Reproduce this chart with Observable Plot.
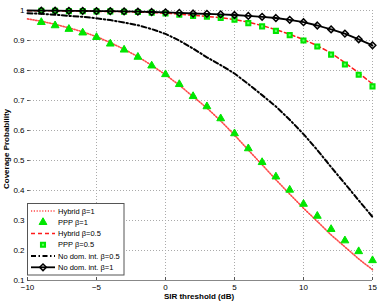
<!DOCTYPE html>
<html><head><meta charset="utf-8">
<script src="https://cdn.jsdelivr.net/npm/d3@7"></script>
<script src="https://cdn.jsdelivr.net/npm/@observablehq/plot@0.6"></script>
<style>body{margin:0;background:#fff} svg{font-family:"Liberation Sans",Arial,sans-serif}</style>
</head><body><div id="chart"></div>
<script>
// SIR threshold (dB) sample points
const sirLine = [-10,-9,-8,-7,-6,-5,-4,-3,-2,-1,0,1,2,3,4,5,6,7,8,9,10,11,12,13,14,15];
const sirMarker = [-9,-8,-7,-6,-5,-4,-3,-2,-1,0,1,2,3,4,5,6,7,8,9,10,11,12,13,14,15];

// Coverage probability series
const hybridB1 = [0.972,0.964,0.954,0.942,0.929,0.913,0.893,0.871,0.846,0.817,0.786,0.751,0.713,0.675,0.632,0.585,0.535,0.486,0.436,0.388,0.341,0.297,0.252,0.212,0.172,0.136];
const pppB1 = [0.961,0.950,0.938,0.926,0.911,0.889,0.869,0.845,0.816,0.787,0.754,0.714,0.680,0.640,0.590,0.540,0.494,0.446,0.402,0.355,0.315,0.271,0.233,0.197,0.167];
const hybridB05 = [0.999,0.999,0.999,0.998,0.998,0.997,0.997,0.996,0.995,0.993,0.991,0.988,0.984,0.980,0.976,0.970,0.961,0.950,0.936,0.921,0.903,0.883,0.858,0.826,0.792,0.755];
const pppB05 = [0.999,0.999,0.998,0.998,0.997,0.997,0.996,0.995,0.993,0.990,0.986,0.982,0.979,0.975,0.969,0.958,0.947,0.932,0.918,0.900,0.880,0.853,0.820,0.786,0.747];
const noDomB05 = [0.991,0.989,0.986,0.982,0.979,0.974,0.968,0.960,0.951,0.938,0.922,0.900,0.873,0.844,0.818,0.790,0.755,0.718,0.680,0.636,0.588,0.535,0.478,0.423,0.367,0.312];
const noDomB1 = [1.000,0.9995,0.9993,0.999,0.9987,0.998,0.998,0.997,0.996,0.995,0.994,0.992,0.990,0.989,0.987,0.985,0.982,0.979,0.975,0.969,0.961,0.950,0.937,0.923,0.904,0.884];

// Ticks and labels
const xTicks = [-10,-5,0,5,10,15];
const yTicks = [0.1,0.2,0.3,0.4,0.5,0.6,0.7,0.8,0.9,1];
const legendLabels = ["Hybrid \u03b2=1","PPP \u03b2=1","Hybrid \u03b2=0.5","PPP \u03b2=0.5","No dom. int. \u03b2=0.5","No dom. int. \u03b2=1"];
const xLabel = "SIR threshold (dB)";
const yLabel = "Coverage Probability";

const series = (xs, ys) => xs.map((x, i) => ({x, y: ys[i]}));
const noDomB1Markers = series(sirLine, noDomB1).filter(d => d.x >= sirMarker[0]);

const RED = "#ff1a1a", GREEN = "#00e600", SQFILL = "#66ff66";

const plot = Plot.plot({
  width: 382, height: 304,
  marginLeft: 27, marginRight: 10, marginTop: 10, marginBottom: 24,
  style: {fontFamily: "Liberation Sans, Arial, sans-serif", fontSize: "8px", background: "#fff", color: "#000", overflow: "visible"},
  x: {domain: [-10, 15]},
  y: {domain: [0.1, 1]},
  marks: [
    Plot.ruleX(xTicks.slice(1), {stroke: "#aaa", strokeDasharray: "1,2"}),
    Plot.ruleY(yTicks.slice(1), {stroke: "#aaa", strokeDasharray: "1,2"}),
    Plot.ruleY([0.1], {stroke: "#888", strokeWidth: 1.2}),
    Plot.ruleX(xTicks, {y1: 0.1, y2: 0.11, stroke: "#555"}),
    Plot.ruleY(yTicks, {x1: -10, x2: -9.8, stroke: "#555"}),
    Plot.axisX(xTicks, {tickSize: 0, tickPadding: 4, label: null,
      tickFormat: d => d < 0 ? "\u2212" + (-d) : String(d)}),
    Plot.axisY(yTicks, {tickSize: 0, tickPadding: 3, label: null,
      tickFormat: d => d === 1 ? "1" : d.toFixed(1)}),
    Plot.line(series(sirLine, hybridB1), {x: "x", y: "y", stroke: RED, strokeWidth: 1.6, strokeDasharray: "1.2,1.6", strokeOpacity: 0.8}),
    Plot.dot(series(sirMarker, pppB1), {x: "x", y: "y", symbol: "triangle", r: 2.9, fill: GREEN, stroke: GREEN, strokeWidth: 1}),
    Plot.line(series(sirLine, hybridB05), {x: "x", y: "y", stroke: RED, strokeWidth: 1.5, strokeDasharray: "4,3"}),
    Plot.dot(series(sirMarker, pppB05), {x: "x", y: "y", symbol: "square", r: 2.3, fill: SQFILL, stroke: GREEN, strokeWidth: 2}),
    Plot.line(series(sirLine, noDomB05), {x: "x", y: "y", stroke: "#000", strokeWidth: 2, strokeDasharray: "5,2.5,1.5,2.5"}),
    Plot.line(series(sirLine, noDomB1), {x: "x", y: "y", stroke: "#000", strokeWidth: 1.8}),
    Plot.dot(noDomB1Markers, {x: "x", y: "y", symbol: "diamond2", r: 3, fill: "none", stroke: "#000", strokeWidth: 1.5})
  ]
});

const svg = d3.select(plot);
// axis labels
svg.append("text").attr("x", 199).attr("y", 298.5).attr("text-anchor", "middle")
  .attr("font-size", 8).attr("font-weight", "bold").text(xLabel);
svg.append("text").attr("transform", "translate(9,149) rotate(-90)").attr("text-anchor", "middle")
  .attr("font-size", 8).attr("font-weight", "bold").text(yLabel);

// legend
const lg = svg.append("g").attr("text-anchor", "start");
lg.append("rect").attr("x", 27.5).attr("y", 203.5).attr("width", 96.5).attr("height", 71.5)
  .attr("fill", "#fff").attr("stroke", "#555");
const rowY = i => 211 + i * 11.26;
const styles = [
  {line: {stroke: RED, w: 1.6, dash: "1.2,1.6", op: 0.8}},
  {marker: {type: d3.symbolTriangle, size: Math.PI * 2.9 * 2.9, fill: GREEN, stroke: GREEN, w: 1}},
  {line: {stroke: RED, w: 1.5, dash: "4,3"}},
  {marker: {type: d3.symbolSquare, size: Math.PI * 2.3 * 2.3, fill: SQFILL, stroke: GREEN, w: 2}},
  {line: {stroke: "#000", w: 2, dash: "5,2.5,1.5,2.5"}},
  {line: {stroke: "#000", w: 1.8}, marker: {type: d3.symbolDiamond2, size: Math.PI * 9, fill: "none", stroke: "#000", w: 1.5}}
];
legendLabels.forEach((lab, i) => {
  const y = rowY(i), s = styles[i];
  if (s.line) {
    lg.append("line").attr("x1", 31).attr("x2", 55).attr("y1", y).attr("y2", y)
      .attr("stroke", s.line.stroke).attr("stroke-width", s.line.w)
      .attr("stroke-dasharray", s.line.dash || null).attr("stroke-opacity", s.line.op || 1);
  }
  if (s.marker) {
    lg.append("path").attr("transform", `translate(43,${y})`)
      .attr("d", d3.symbol(s.marker.type, s.marker.size)())
      .attr("fill", s.marker.fill).attr("stroke", s.marker.stroke).attr("stroke-width", s.marker.w);
  }
  lg.append("text").attr("x", 58).attr("y", y).attr("dy", "0.35em").attr("text-anchor", "start")
    .attr("font-size", 7.5).text(lab);
});

document.getElementById("chart").appendChild(plot);
</script>
</body></html>
